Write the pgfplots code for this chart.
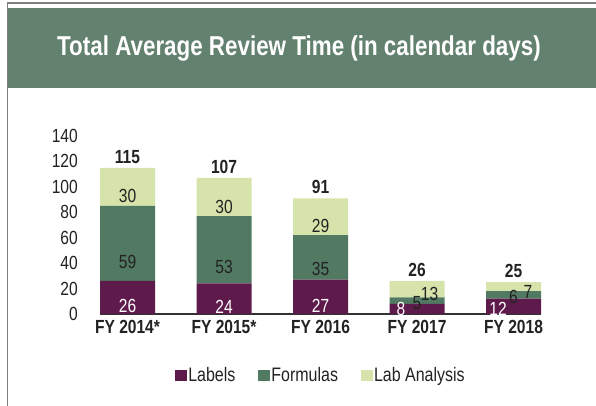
\documentclass[border=0pt]{standalone}
\usepackage{fontspec}
\setmainfont{Liberation Sans}[FakeStretch=0.82]
\usepackage{pgfplots}
\pgfplotsset{compat=1.18}
\usepackage{pgfplotstable}
\definecolor{hdr}{HTML}{62816E}
\definecolor{labc}{HTML}{5E1A4B}
\definecolor{formc}{HTML}{527A62}
\definecolor{anac}{HTML}{D6E3AB}
\definecolor{txt}{HTML}{222222}

\pgfplotstableread{
x y dx dy
0 26 0 0
1 24 0 0
2 27 0 0
3 8 -16 4.5
4 12 -15.5 3
}\tLab
\pgfplotstableread{
x y dx dy
0 59 0 0
1 53 0 0
2 35 0 0
3 5 0 -2.5
4 6 0 -1
}\tForm
\pgfplotstableread{
x y dx dy
0 30 0 0
1 30 0 0
2 29 0 0
3 13 12.5 -1.8
4 7 14.5 -6.3
}\tAna
\pgfplotstableread{
x t
0 115
1 107
2 91
3 26
4 25
}\tTot

\newcommand{\fs}{\fontsize{19}{22}\selectfont}

\begin{document}
\begin{tikzpicture}[x=1pt,y=1pt]
\useasboundingbox (0,0) rectangle (596,406);
\fill[hdr] (8,318) rectangle (596,398);
\draw[gray, line width=1.2pt] (7.6,0) -- (7.6,403) -- (596,403);
\node[white, font=\bfseries\fontsize{27.3}{32}\selectfont] at (299,357) {Total Average Review Time (in calendar days)};
\pgfplotsset{common/.style={
  at={(100pt,92pt)}, anchor=south west, scale only axis,
  width=441pt, height=178pt,
  ymin=0, ymax=140, xmin=-0.285, xmax=4.285,
  bar width=55pt, clip=false}}
\begin{axis}[
  common,
  ybar stacked,
  axis x line*=bottom, axis y line*=left,
  x axis line style={-, line width=2.5pt, draw=black!80},
  y axis line style={draw=none},
  major tick length=0pt,
  ytick={0,20,40,60,80,100,120,140},
  yticklabels={0,20,40,60,80,100,120,140},
  xtick={0,1,2,3,4},
  xticklabels={FY 2014*, FY 2015*, FY 2016, FY 2017, FY 2018},
  yticklabel style={font=\fs, text=txt, anchor=east, inner sep=0pt, xshift=-22pt},
  xticklabel style={font=\fs\bfseries, text=txt, anchor=north, inner sep=0pt, yshift=-6pt},
  legend style={at={(0.5,-0.343)}, anchor=center, draw=none, fill=none,
    legend columns=3, font=\fontsize{19.5}{22}\selectfont, text=txt,
    nodes={inner sep=1.5pt},
    /tikz/every even column/.append style={column sep=21pt}},
  legend image code/.code={\fill[#1] (0pt,-5.5pt) rectangle (12pt,5.5pt);},
  seg/.style={nodes near coords={\pgfplotspointmeta}, point meta=explicit symbolic,
    visualization depends on={\thisrow{y}*0.317857 \as \myhalf},
    visualization depends on={\thisrow{dx} \as \mydx},
    visualization depends on={\thisrow{dy}*0.5 \as \mydy},
    every node near coord/.style={font=\fs, text=#1, anchor=center, inner sep=0pt,
      xshift=\mydx pt, yshift=\mydy pt - \myhalf pt}},
]
\addplot[fill=labc, draw=none, seg=white] table[x=x, y=y, meta=y] {\tLab};
\addlegendentry{Labels}
\addplot[fill=formc, draw=none, seg=txt] table[x=x, y=y, meta=y] {\tForm};
\addlegendentry{Formulas}
\addplot[fill=anac, draw=none, seg=txt] table[x=x, y=y, meta=y] {\tAna};
\addlegendentry{Lab Analysis}
\end{axis}
\begin{axis}[common, ybar, hide axis]
\addplot[draw=none, fill=none, nodes near coords={\pgfplotspointmeta}, point meta=explicit symbolic,
  every node near coord/.style={font=\fs\bfseries, text=txt, anchor=south, inner sep=0pt, yshift=4pt}]
  table[x=x, y=t, meta=t] {\tTot};
\end{axis}
\end{tikzpicture}
\end{document}
